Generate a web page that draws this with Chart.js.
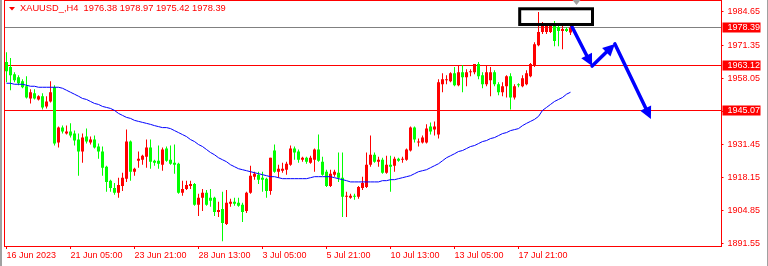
<!DOCTYPE html>
<html><head><meta charset="utf-8">
<script src="https://cdn.jsdelivr.net/npm/chart.js@4.4.0/dist/chart.umd.min.js"></script>
<style>html,body{margin:0;padding:0;background:#fff;overflow:hidden}canvas{display:block}</style>
</head><body><canvas id="c" width="768" height="266"></canvas>
<script>
const symbolTitle = 'XAUUSD_,H4  1976.38 1978.97 1975.42 1978.39';

const opens = [1964.5,1962.5,1959.6,1958.4,1956.8,1954.8,1949.9,1952.0,1949.5,1950.8,
1946.7,1948.7,1954.4,1932.2,1938.2,1935.8,1936.6,1935.8,1933.4,1928.6,
1934.6,1932.2,1933.4,1930.6,1928.6,1922.5,1916.9,1914.0,1912.0,1914.8,
1917.7,1932.6,1920.5,1924.9,1925.3,1926.5,1930.2,1924.9,1924.9,1923.3,
1929.8,1925.3,1924.1,1923.7,1912.0,1913.6,1914.8,1915.6,1907.2,1910.0,
1912.0,1910.0,1910.0,1904.3,1905.5,1899.5,1907.6,1908.4,1908.0,1907.2,
1904.7,1912.0,1918.5,1919.3,1918.1,1917.7,1912.8,1929.0,1920.5,1920.9,
1921.3,1923.3,1929.8,1928.6,1925.3,1926.1,1924.1,1925.3,1929.4,1924.5,
1920.5,1914.8,1919.3,1920.1,1918.1,1910.4,1910.0,1910.8,1910.4,1914.0,
1914.4,1923.3,1927.3,1924.5,1925.3,1920.1,1923.3,1922.9,1925.7,1925.3,
1925.3,1929.0,1938.2,1932.2,1932.2,1932.2,1938.6,1937.4,1935.4,1955.6,
1957.2,1956.8,1960.0,1955.2,1960.4,1958.4,1960.4,1960.4,1963.7,1959.2,
1955.6,1957.2,1960.4,1955.6,1952.4,1954.8,1958.8,1950.3,1955.6,1954.8,
1955.6,1958.8,1962.9,1971.3,1976.6,1976.6,1976.6,1979.0,1978.6,1977.0,
1977.8,1976.38];
const highs = [1968.5,1966.1,1960.4,1959.2,1957.6,1958.8,1953.6,1953.6,1951.2,1952.0,
1950.8,1956.8,1955.2,1938.6,1939.0,1939.0,1939.9,1937.0,1935.8,1935.8,
1937.8,1934.6,1935.0,1931.8,1930.6,1922.9,1917.3,1916.0,1918.1,1920.1,
1937.4,1933.0,1922.1,1928.6,1927.3,1933.4,1933.4,1925.3,1931.0,1930.2,
1930.6,1931.0,1931.4,1924.1,1916.9,1916.9,1916.9,1916.0,1911.6,1913.6,
1913.2,1913.6,1910.4,1908.4,1912.4,1913.2,1909.6,1910.0,1910.0,1908.0,
1912.4,1922.9,1920.5,1920.5,1920.5,1918.1,1926.1,1931.4,1923.3,1924.1,
1924.5,1931.0,1930.6,1929.4,1926.5,1926.5,1926.9,1929.8,1935.4,1926.5,
1921.3,1921.3,1921.3,1928.2,1928.2,1912.4,1911.6,1911.6,1914.8,1918.5,
1928.2,1935.0,1928.2,1926.5,1926.1,1926.9,1926.9,1926.5,1926.1,1926.5,
1929.8,1938.6,1938.6,1933.8,1935.0,1939.5,1940.3,1940.7,1957.6,1960.0,
1959.2,1960.4,1962.5,1963.3,1963.3,1961.6,1961.6,1963.7,1964.5,1960.4,
1962.9,1962.5,1961.2,1956.4,1956.4,1959.2,1960.0,1955.6,1956.0,1959.2,
1961.2,1964.1,1972.5,1984.65,1980.6,1979.4,1979.4,1981.0,1979.8,1979.0,
1978.6,1978.97];
const lows = [1956.4,1953.2,1956.4,1955.2,1954.0,1949.9,1947.9,1949.5,1949.1,1945.5,
1945.9,1948.3,1931.0,1930.2,1935.8,1935.4,1934.2,1931.0,1918.9,1924.1,
1931.8,1931.4,1929.8,1925.7,1918.9,1912.4,1912.4,1911.2,1910.0,1912.8,
1916.4,1916.9,1918.9,1922.1,1923.3,1922.1,1921.7,1922.9,1921.7,1920.9,
1924.5,1923.3,1919.7,1911.6,1910.8,1913.2,1913.6,1906.8,1902.7,1904.7,
1906.8,1906.4,1902.7,1902.3,1892.6,1899.1,1906.4,1906.8,1906.4,1900.3,
1903.9,1911.6,1917.3,1915.6,1912.4,1910.0,1911.2,1920.1,1918.1,1920.1,
1919.3,1922.9,1925.3,1924.1,1924.5,1923.7,1923.7,1920.5,1924.5,1918.9,
1914.4,1914.4,1918.5,1916.4,1902.3,1902.3,1909.6,1909.2,1909.6,1913.2,
1914.0,1922.5,1924.1,1922.5,1919.7,1919.7,1912.4,1920.5,1924.5,1924.1,
1924.9,1928.6,1932.2,1930.6,1931.8,1931.8,1935.4,1935.0,1933.8,1952.4,
1955.6,1956.4,1954.8,1954.8,1952.4,1954.8,1958.8,1959.6,1957.6,1954.0,
1954.8,1950.8,1954.8,1951.2,1950.8,1950.3,1945.5,1949.5,1954.4,1954.4,
1955.2,1958.4,1962.5,1970.9,1975.8,1975.8,1976.2,1970.9,1970.9,1969.7,
1976.6,1975.42];
const closes = [1960.8,1959.2,1957.2,1956.0,1954.4,1950.3,1952.4,1949.9,1950.8,1946.3,
1948.7,1952.4,1931.8,1938.2,1936.6,1936.6,1935.0,1933.0,1928.6,1934.2,
1932.6,1933.4,1930.2,1928.6,1922.1,1916.4,1914.0,1912.0,1915.2,1918.1,
1932.6,1920.5,1921.7,1925.7,1926.9,1930.2,1924.5,1924.1,1923.7,1929.4,
1924.9,1923.7,1923.3,1912.0,1913.6,1915.2,1915.6,1907.2,1910.0,1912.0,
1907.2,1908.8,1904.3,1905.1,1899.9,1908.0,1908.4,1907.6,1906.8,1904.3,
1912.0,1918.9,1919.7,1917.3,1917.3,1912.8,1926.1,1920.5,1921.7,1921.7,
1923.7,1929.8,1928.2,1925.3,1926.1,1924.5,1926.1,1929.4,1924.9,1919.3,
1914.8,1919.7,1920.5,1918.1,1910.4,1910.8,1910.8,1910.4,1914.4,1916.0,
1923.3,1927.3,1924.5,1925.3,1920.1,1923.3,1922.5,1925.7,1924.9,1925.7,
1929.4,1938.2,1933.4,1932.6,1934.2,1937.8,1936.6,1938.6,1956.4,1957.6,
1957.6,1960.0,1955.2,1960.4,1958.4,1960.4,1960.8,1963.7,1958.8,1955.6,
1960.4,1960.4,1955.6,1952.4,1954.8,1958.8,1950.3,1954.8,1955.2,1958.0,
1960.0,1963.7,1971.7,1976.6,1979.0,1979.0,1979.0,1973.0,1977.0,1977.8,
1977.0,1978.39];
const maValues = [1956.0,1956.0,1955.6,1955.6,1955.6,1955.2,1954.8,1954.8,1954.4,1954.4,
1954.4,1954.4,1954.4,1954.4,1954.0,1953.2,1952.4,1951.6,1950.8,1949.9,
1949.5,1948.7,1947.9,1947.5,1946.7,1946.3,1945.9,1945.1,1943.9,1943.1,
1942.3,1941.9,1941.1,1940.7,1940.3,1939.9,1939.5,1939.0,1938.6,1938.2,
1938.2,1937.8,1937.0,1936.2,1935.4,1934.6,1933.4,1932.6,1931.4,1930.6,
1929.4,1928.2,1927.3,1926.1,1925.3,1924.5,1923.3,1922.5,1921.7,1921.3,
1920.9,1920.5,1920.1,1919.7,1919.3,1918.9,1918.5,1918.5,1918.1,1917.7,
1917.7,1917.7,1917.7,1917.7,1917.7,1917.7,1918.1,1918.5,1918.5,1918.5,
1918.5,1918.5,1918.1,1917.7,1917.3,1916.9,1916.4,1916.4,1916.4,1916.4,
1916.4,1916.4,1916.4,1916.4,1916.9,1916.9,1917.3,1917.3,1917.7,1918.1,
1918.5,1918.9,1919.7,1920.5,1920.9,1921.3,1922.1,1922.9,1923.7,1924.9,
1926.1,1926.9,1927.7,1928.6,1929.0,1929.8,1930.6,1931.0,1931.8,1932.6,
1933.0,1933.8,1934.2,1935.0,1935.8,1936.2,1937.0,1937.4,1937.8,1939.0,
1939.9,1940.7,1941.5,1942.7,1945.1,1946.3,1947.5,1948.7,1949.5,1950.3,
1951.6,1952.4];

const slotCount = 179;          // visible bar slots incl. chart shift space
const barsPerLabel = 16;
const xTickLabels = ['16 Jun 2023','21 Jun 05:00','23 Jun 21:00','28 Jun 13:00','3 Jul 05:00','5 Jul 21:00','10 Jul 13:00','13 Jul 05:00','17 Jul 21:00'];
const yTickValues = [1891.55,1904.85,1918.15,1931.45,1944.75,1958.05,1971.35,1984.65];
const yMin = 1890.67, yMax = 1989.43;
const levelValues = [1978.39, 1963.12, 1945.07];   // first = bid line
const arrowBars = [141.4, 146.4, 152.1, 161.1];
const arrowPrices = [1978.6, 1962.9, 1971.8, 1941.7];
const boxBars = [128.3, 146.5];
const boxPrices = [1985.9, 1979.6];
const shiftMarkerBar = 142.5;

const FONT = '"Liberation Sans", Arial, sans-serif';
const UP = '#ff0000', DOWN = '#00ff00';
const slots = Array.from({length: slotCount}, (_, i) => i);
const candleColors = closes.map((c, i) => c >= opens[i] ? UP : DOWN);
const wickData = lows.map((l, i) => [l, highs[i]]);
const bodyData = opens.map((o, i) => [o, closes[i]]);

function arrowHead(ctx, x1, y1, x2, y2) {
  const ang = Math.atan2(y2 - y1, x2 - x1), len = 12, w = 6;
  ctx.beginPath();
  ctx.moveTo(x2, y2);
  ctx.lineTo(x2 - len * Math.cos(ang) + w * Math.sin(ang), y2 - len * Math.sin(ang) - w * Math.cos(ang));
  ctx.lineTo(x2 - len * Math.cos(ang) - w * Math.sin(ang), y2 - len * Math.sin(ang) + w * Math.cos(ang));
  ctx.closePath();
  ctx.fill();
}

const mt4Plugin = {
  id: 'mt4',
  beforeDatasetsDraw(chart) {
    const {ctx, chartArea: a, scales: {y}} = chart;
    ctx.save();
    ctx.lineWidth = 1;
    levelValues.forEach((v, k) => {
      const py = Math.round(y.getPixelForValue(v) - 0.5) + 0.5;
      ctx.strokeStyle = k === 0 ? '#808080' : '#ff0000';
      ctx.beginPath(); ctx.moveTo(a.left, py); ctx.lineTo(a.right + 1, py); ctx.stroke();
    });
    ctx.restore();
  },
  afterDraw(chart) {
    const {ctx, chartArea: a, scales: {x, y}} = chart;
    ctx.save();
    ctx.fillStyle = '#a0a0a0';
    ctx.fillRect(0, 0, 2, chart.height);
    ctx.fillRect(chart.width - 1, 0, 1, chart.height);
    ctx.strokeStyle = '#ff0000'; ctx.lineWidth = 1;
    ctx.strokeRect(a.left, 0.5, a.right + 1 - a.left, a.bottom);
    // arrows
    ctx.strokeStyle = '#0000ff'; ctx.fillStyle = '#0000ff';
    ctx.lineWidth = 3.5; ctx.lineJoin = 'round'; ctx.lineCap = 'round';
    const pts = arrowBars.map((b, k) => [x.getPixelForValue(b), y.getPixelForValue(arrowPrices[k])]);
    for (let k = 0; k < pts.length - 1; k++) {
      const [x1, y1] = pts[k], [x2, y2] = pts[k + 1];
      const ang = Math.atan2(y2 - y1, x2 - x1);
      ctx.beginPath(); ctx.moveTo(x1, y1);
      ctx.lineTo(x2 - 6 * Math.cos(ang), y2 - 6 * Math.sin(ang)); ctx.stroke();
      arrowHead(ctx, x1, y1, x2, y2);
    }
    // black rectangle
    ctx.strokeStyle = '#000'; ctx.lineWidth = 3; ctx.lineCap = 'butt'; ctx.lineJoin = 'miter';
    const bx1 = x.getPixelForValue(boxBars[0]), bx2 = x.getPixelForValue(boxBars[1]);
    const by1 = y.getPixelForValue(boxPrices[0]), by2 = y.getPixelForValue(boxPrices[1]);
    ctx.strokeRect(bx1, by1, bx2 - bx1, by2 - by1);
    // chart shift marker
    const mx = x.getPixelForValue(shiftMarkerBar);
    ctx.fillStyle = '#a0a0a0';
    ctx.beginPath(); ctx.moveTo(mx - 4, 0); ctx.lineTo(mx + 4, 0); ctx.lineTo(mx, 5); ctx.closePath(); ctx.fill();
    // level price boxes
    ctx.font = '9px ' + FONT; ctx.textBaseline = 'middle'; ctx.textAlign = 'left';
    levelValues.forEach(v => {
      const py = Math.round(y.getPixelForValue(v) - 0.5) + 0.5;
      ctx.fillStyle = '#ff0000';
      ctx.fillRect(a.right + 2, py - 5, 38, 10);
      ctx.fillStyle = '#ffffff';
      ctx.fillText(v.toFixed(2), a.right + 7, py + 0.5);
    });
    // title
    ctx.fillStyle = '#ff0000';
    ctx.beginPath(); ctx.moveTo(9, 7); ctx.lineTo(15, 7); ctx.lineTo(12, 10.5); ctx.closePath(); ctx.fill();
    ctx.font = '9.3px ' + FONT;
    ctx.fillText(symbolTitle, 20, 8.5);
    ctx.restore();
  }
};

new Chart(document.getElementById('c'), {
  data: {
    labels: slots,
    datasets: [
      {type: 'line', data: maValues, borderColor: '#0000ff', borderWidth: 1, pointRadius: 0, tension: 0, order: 0},
      {type: 'bar', data: wickData, backgroundColor: candleColors, barThickness: 1, grouped: false, borderWidth: 0, inflateAmount: 0, order: 2},
      {type: 'bar', data: bodyData, backgroundColor: candleColors, barThickness: 3, grouped: false, borderWidth: 0, inflateAmount: 0, minBarLength: 1, order: 1}
    ]
  },
  options: {
    responsive: false, animation: false, devicePixelRatio: 1,
    layout: {padding: {left: 4.5, top: 0, right: 0, bottom: 0}},
    plugins: {legend: {display: false}, tooltip: {enabled: false}},
    scales: {
      x: {
        type: 'category', offset: true,
        border: {display: false},
        grid: {display: true, drawOnChartArea: false, drawTicks: true, tickLength: 3, color: '#ff0000', offset: false},
        ticks: {autoSkip: false, maxRotation: 0, minRotation: 0, align: 'start', padding: 1, color: '#ff0000',
          font: {family: FONT, size: 9}, callback: v => xTickLabels[v / barsPerLabel]},
        afterBuildTicks: s => { s.ticks = xTickLabels.map((_, k) => ({value: k * barsPerLabel})); },
        afterFit: s => { s.height = 20; s.paddingLeft = 0; s.paddingRight = 0; }
      },
      y: {
        type: 'linear', position: 'right', min: yMin, max: yMax,
        border: {display: false},
        grid: {display: true, drawOnChartArea: false, drawTicks: true, tickLength: 3, color: '#ff0000'},
        ticks: {padding: 4, color: '#ff0000', font: {family: FONT, size: 9}, callback: v => v.toFixed(2)},
        afterBuildTicks: s => { s.ticks = yTickValues.map(v => ({value: v})); },
        afterFit: s => { s.width = 47.5; s.paddingTop = 0; s.paddingBottom = 0; }
      }
    }
  },
  plugins: [mt4Plugin]
});
</script>
</body></html>
